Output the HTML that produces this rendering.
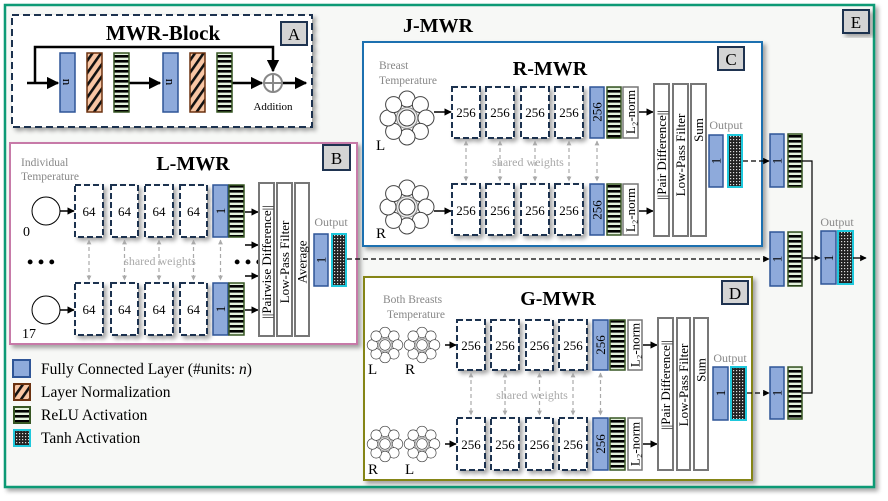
<!DOCTYPE html>
<html><head><meta charset="utf-8"><style>
html,body{margin:0;padding:0;background:#fff}
svg{display:block;font-family:"Liberation Serif",serif}
</style></head><body>
<svg width="888" height="501" viewBox="0 0 888 501" xmlns="http://www.w3.org/2000/svg">
<defs>
<pattern id="hatch" patternUnits="userSpaceOnUse" width="7" height="7" patternTransform="rotate(35)">
<rect width="7" height="7" fill="#f8c6a4"/><rect width="2.6" height="7" fill="#111"/></pattern>
<pattern id="relu" patternUnits="userSpaceOnUse" width="5" height="5">
<rect width="5" height="5" fill="#e3f1dc"/><rect width="5" height="2.6" fill="#000"/></pattern>
<pattern id="tanh" patternUnits="userSpaceOnUse" width="3" height="3">
<rect width="3" height="3" fill="#222"/><rect x="1" y="1" width="1.2" height="1.2" fill="#ddd"/></pattern>
<filter id="sh" x="-10%" y="-10%" width="130%" height="130%"><feDropShadow dx="3" dy="3" stdDeviation="2" flood-color="#000" flood-opacity="0.35"/></filter>
<marker id="ar" viewBox="0 0 10 10" refX="9" refY="5" markerWidth="5" markerHeight="5" orient="auto"><path d="M0,0L10,5L0,10z" fill="#000"/></marker>
<marker id="arg" viewBox="0 0 10 10" refX="9" refY="5" markerWidth="4" markerHeight="4" orient="auto-start-reverse"><path d="M0,0L10,5L0,10z" fill="#aaa"/></marker>
<g id="clu">
<circle cx="0" cy="-19" r="8" fill="#fff" stroke="#444"/><circle cx="13.4" cy="-13.4" r="8" fill="#fff" stroke="#444"/>
<circle cx="19" cy="0" r="8" fill="#fff" stroke="#444"/><circle cx="13.4" cy="13.4" r="8" fill="#fff" stroke="#444"/>
<circle cx="0" cy="19" r="8" fill="#fff" stroke="#444"/><circle cx="-13.4" cy="13.4" r="8" fill="#fff" stroke="#444"/>
<circle cx="-19" cy="0" r="8" fill="#fff" stroke="#444"/><circle cx="-13.4" cy="-13.4" r="8" fill="#fff" stroke="#444"/>
<circle cx="0" cy="0" r="10.5" fill="#eee" stroke="#888"/><circle cx="0" cy="0" r="8" fill="#fff" stroke="#444"/>
</g>
</defs>
<rect width="888" height="501" fill="#fff"/>
<!-- E frame -->
<rect x="5" y="5" width="869" height="482" fill="#f7f8f6" stroke="#0c9a74" stroke-width="2.5" filter="url(#sh)"/>
<rect x="843" y="10" width="26" height="23" fill="#d4d4d4" stroke="#1f3350" stroke-width="2" filter="url(#sh)"/>
<text x="856" y="28" font-size="17" text-anchor="middle">E</text>
<text x="438" y="32" font-size="20" font-weight="bold" text-anchor="middle">J-MWR</text>

<!-- A -->
<rect x="12" y="15" width="300" height="112" fill="#fff" stroke="#1f3350" stroke-width="2" stroke-dasharray="7,4" filter="url(#sh)"/>
<rect x="281" y="22" width="26" height="23" fill="#d4d4d4" stroke="#1f3350" stroke-width="2"/>
<text x="294" y="40" font-size="17" text-anchor="middle">A</text>
<text x="163" y="40" font-size="21" font-weight="bold" text-anchor="middle">MWR-Block</text>
<polyline points="35,83 35,47 273,47 273,71" fill="none" stroke="#000" stroke-width="2.5" marker-end="url(#ar)"/>
<line x1="27" y1="83" x2="58" y2="83" stroke="#000" stroke-width="2.5" marker-end="url(#ar)"/>
<line x1="129" y1="83" x2="160" y2="83" stroke="#000" stroke-width="2.5" marker-end="url(#ar)"/>
<line x1="232" y1="83" x2="262" y2="83" stroke="#000" stroke-width="2.5" marker-end="url(#ar)"/>
<line x1="282" y1="83" x2="306" y2="83" stroke="#000" stroke-width="2.5" marker-end="url(#ar)"/>
<g stroke-width="1.5">
<rect x="60" y="53" width="15" height="59" fill="#8eaadb" stroke="#2f5597"/>
<rect x="87" y="53" width="15" height="59" fill="url(#hatch)" stroke="#6b3210"/>
<rect x="114" y="53" width="15" height="59" fill="url(#relu)" stroke="#375623"/>
<rect x="163" y="53" width="15" height="59" fill="#8eaadb" stroke="#2f5597"/>
<rect x="190" y="53" width="15" height="59" fill="url(#hatch)" stroke="#6b3210"/>
<rect x="217" y="53" width="15" height="59" fill="url(#relu)" stroke="#375623"/>
</g>
<text transform="translate(67.5,82) rotate(90)" font-size="13" text-anchor="middle" dominant-baseline="central">n</text>
<text transform="translate(170.5,82) rotate(90)" font-size="13" text-anchor="middle" dominant-baseline="central">n</text>
<circle cx="273" cy="83" r="9" fill="#fff" stroke="#888" stroke-width="2"/>
<path d="M264,83H282M273,74V92" stroke="#888" stroke-width="2"/>
<text x="273" y="110" font-size="11" text-anchor="middle">Addition</text>

<!-- B L-MWR -->
<rect x="10" y="143" width="347" height="201" fill="#fff" stroke="#c77aa8" stroke-width="2" filter="url(#sh)"/>
<rect x="323" y="145" width="27" height="25" fill="#d4d4d4" stroke="#1f3350" stroke-width="2"/>
<text x="336.5" y="164" font-size="17" text-anchor="middle">B</text>
<text x="193" y="170" font-size="20" font-weight="bold" text-anchor="middle">L-MWR</text>
<text x="21" y="166" font-size="11.5" fill="#888">Individual</text>
<text x="21" y="180" font-size="11.5" fill="#888">Temperature</text>
<circle cx="46" cy="211" r="14" fill="#fff" stroke="#000"/>
<circle cx="46" cy="310" r="14" fill="#fff" stroke="#000"/>
<text x="23" y="236" font-size="14">0</text>
<text x="22" y="338" font-size="14">17</text>
<line x1="60" y1="211" x2="74" y2="211" stroke="#000" stroke-width="1.5" marker-end="url(#ar)"/>
<line x1="60" y1="310" x2="74" y2="310" stroke="#000" stroke-width="1.5" marker-end="url(#ar)"/>
<g fill="#fff" stroke="#1f3350" stroke-width="2" stroke-dasharray="6,3" filter="url(#sh)">
<rect x="75" y="185" width="28" height="52"/><rect x="111" y="185" width="27" height="52"/><rect x="145" y="185" width="28" height="52"/><rect x="180" y="185" width="27" height="52"/>
<rect x="75" y="283" width="28" height="52"/><rect x="111" y="283" width="27" height="52"/><rect x="145" y="283" width="28" height="52"/><rect x="180" y="283" width="27" height="52"/>
</g>
<g font-size="13" text-anchor="middle">
<text x="89" y="216">64</text><text x="124.5" y="216">64</text><text x="159" y="216">64</text><text x="193.5" y="216">64</text>
<text x="89" y="314">64</text><text x="124.5" y="314">64</text><text x="159" y="314">64</text><text x="193.5" y="314">64</text>
</g>
<g stroke="#aaa" stroke-width="1.2" stroke-dasharray="4,3" marker-start="url(#arg)" marker-end="url(#arg)">
<line x1="89" y1="240" x2="89" y2="280"/><line x1="124.5" y1="240" x2="124.5" y2="280"/><line x1="159" y1="240" x2="159" y2="280"/><line x1="193.5" y1="240" x2="193.5" y2="280"/><line x1="220.5" y1="240" x2="220.5" y2="280"/>
</g>
<text x="160" y="265" font-size="12" fill="#aaa" text-anchor="middle">shared weights</text>
<text x="41" y="268" font-size="18" font-weight="bold" text-anchor="middle">• • •</text>
<text x="248" y="268" font-size="18" font-weight="bold" text-anchor="middle">• • •</text>
<g stroke-width="1.5">
<rect x="213" y="185" width="15" height="52" fill="#8eaadb" stroke="#2f5597"/>
<rect x="229" y="185" width="15" height="52" fill="url(#relu)" stroke="#375623"/>
<rect x="213" y="283" width="15" height="52" fill="#8eaadb" stroke="#2f5597"/>
<rect x="229" y="283" width="15" height="52" fill="url(#relu)" stroke="#375623"/>
</g>
<text transform="translate(220.5,211) rotate(-90)" font-size="13" text-anchor="middle" dominant-baseline="central">1</text>
<text transform="translate(220.5,309) rotate(-90)" font-size="13" text-anchor="middle" dominant-baseline="central">1</text>
<g stroke="#000" stroke-width="1.5" marker-end="url(#ar)">
<line x1="245" y1="212" x2="258" y2="212"/><line x1="245" y1="245" x2="258" y2="245"/><line x1="245" y1="276" x2="258" y2="276"/><line x1="245" y1="310" x2="258" y2="310"/>
</g>
<g fill="#fff" stroke="#777" stroke-width="2">
<rect x="259" y="183" width="15" height="153"/><rect x="277" y="183" width="15" height="153"/><rect x="295" y="183" width="14" height="153"/>
</g>
<g font-size="13" text-anchor="middle" dominant-baseline="central">
<text transform="translate(266.5,262) rotate(-90)">||Pairwise Difference||</text>
<text transform="translate(284.5,262) rotate(-90)">Low-Pass Filter</text>
<text transform="translate(302,262) rotate(-90)">Average</text>
</g>
<text x="331" y="226" font-size="12" fill="#888" text-anchor="middle">Output</text>
<rect x="314" y="234" width="14" height="52" fill="#8eaadb" stroke="#2f5597" stroke-width="1.5"/>
<rect x="332" y="234" width="14" height="52" fill="url(#tanh)" stroke="#1ec8dc" stroke-width="2"/>
<text transform="translate(321,260) rotate(-90)" font-size="13" text-anchor="middle" dominant-baseline="central">1</text>

<!-- C R-MWR -->
<rect x="363" y="42" width="399" height="204" fill="#fff" stroke="#1a70b0" stroke-width="2" filter="url(#sh)"/>
<rect x="718" y="47" width="26" height="23" fill="#d4d4d4" stroke="#1f3350" stroke-width="2"/>
<text x="731" y="65" font-size="17" text-anchor="middle">C</text>
<text x="550" y="75" font-size="20" font-weight="bold" text-anchor="middle">R-MWR</text>
<text x="379" y="69" font-size="11.5" fill="#888">Breast</text>
<text x="379" y="84" font-size="11.5" fill="#888">Temperature</text>
<use href="#clu" x="407" y="118"/>
<use href="#clu" x="407" y="207"/>
<text x="376" y="150" font-size="15">L</text>
<text x="376" y="238" font-size="15">R</text>
<line x1="434" y1="112" x2="451" y2="112" stroke="#000" stroke-width="1.5" marker-end="url(#ar)"/>
<line x1="434" y1="211" x2="451" y2="211" stroke="#000" stroke-width="1.5" marker-end="url(#ar)"/>
<g fill="#fff" stroke="#1f3350" stroke-width="2" stroke-dasharray="6,3" filter="url(#sh)">
<rect x="452" y="87" width="28" height="51"/><rect x="486" y="87" width="28" height="51"/><rect x="521" y="87" width="28" height="51"/><rect x="555" y="87" width="28" height="51"/>
<rect x="452" y="184" width="28" height="51"/><rect x="486" y="184" width="28" height="51"/><rect x="521" y="184" width="28" height="51"/><rect x="555" y="184" width="28" height="51"/>
</g>
<g font-size="13" text-anchor="middle">
<text x="466" y="117">256</text><text x="500" y="117">256</text><text x="535" y="117">256</text><text x="569" y="117">256</text>
<text x="466" y="215">256</text><text x="500" y="215">256</text><text x="535" y="215">256</text><text x="569" y="215">256</text>
</g>
<g stroke="#aaa" stroke-width="1.2" stroke-dasharray="4,3" marker-start="url(#arg)" marker-end="url(#arg)">
<line x1="466" y1="141" x2="466" y2="181"/><line x1="500" y1="141" x2="500" y2="181"/><line x1="535" y1="141" x2="535" y2="181"/><line x1="569" y1="141" x2="569" y2="181"/><line x1="597" y1="141" x2="597" y2="181"/>
</g>
<text x="528" y="166" font-size="12" fill="#aaa" text-anchor="middle">shared weights</text>
<g stroke-width="1.5">
<rect x="590" y="87" width="14" height="51" fill="#8eaadb" stroke="#2f5597"/>
<rect x="607" y="87" width="14" height="51" fill="url(#relu)" stroke="#375623"/>
<rect x="623" y="87" width="15" height="51" fill="#fff" stroke="#777"/>
<rect x="590" y="184" width="14" height="51" fill="#8eaadb" stroke="#2f5597"/>
<rect x="607" y="184" width="14" height="51" fill="url(#relu)" stroke="#375623"/>
<rect x="623" y="184" width="15" height="51" fill="#fff" stroke="#777"/>
</g>
<g font-size="13" text-anchor="middle" dominant-baseline="central">
<text transform="translate(597,112) rotate(-90)">256</text><text transform="translate(597,210) rotate(-90)">256</text>
<text transform="translate(630.5,112) rotate(-90)">L₂-norm</text><text transform="translate(630.5,210) rotate(-90)">L₂-norm</text>
</g>
<line x1="639" y1="112" x2="653" y2="112" stroke="#000" stroke-width="1.5" marker-end="url(#ar)"/>
<line x1="639" y1="211" x2="653" y2="211" stroke="#000" stroke-width="1.5" marker-end="url(#ar)"/>
<g fill="#fff" stroke="#777" stroke-width="2">
<rect x="654" y="84" width="15" height="152"/><rect x="673" y="84" width="15" height="152"/><rect x="691" y="84" width="15" height="152"/>
</g>
<g font-size="13" text-anchor="middle" dominant-baseline="central">
<text transform="translate(661.5,155) rotate(-90)">||Pair Difference||</text>
<text transform="translate(680.5,155) rotate(-90)">Low-Pass Filter</text>
<text transform="translate(698.5,130) rotate(-90)">Sum</text>
</g>
<text x="726" y="129" font-size="12" fill="#888" text-anchor="middle">Output</text>
<rect x="709" y="135" width="14" height="52" fill="#8eaadb" stroke="#2f5597" stroke-width="1.5"/>
<rect x="728" y="135" width="14" height="52" fill="url(#tanh)" stroke="#1ec8dc" stroke-width="2"/>
<text transform="translate(716,161) rotate(-90)" font-size="13" text-anchor="middle" dominant-baseline="central">1</text>

<!-- D G-MWR -->
<rect x="364" y="277" width="388" height="203" fill="#fff" stroke="#858514" stroke-width="2" filter="url(#sh)"/>
<rect x="722" y="281" width="26" height="23" fill="#d4d4d4" stroke="#1f3350" stroke-width="2"/>
<text x="735" y="299" font-size="17" text-anchor="middle">D</text>
<text x="558" y="305" font-size="20" font-weight="bold" text-anchor="middle">G-MWR</text>
<text x="383" y="303" font-size="11.5" fill="#888">Both Breasts</text>
<text x="387" y="318" font-size="11.5" fill="#888">Temperature</text>
<use href="#clu" transform="translate(385,345) scale(0.66)"/>
<use href="#clu" transform="translate(422,345) scale(0.66)"/>
<use href="#clu" transform="translate(385,444) scale(0.66)"/>
<use href="#clu" transform="translate(422,444) scale(0.66)"/>
<g font-size="15"><text x="368" y="374">L</text><text x="405" y="374">R</text><text x="368" y="474">R</text><text x="405" y="474">L</text></g>
<line x1="445" y1="345" x2="456" y2="345" stroke="#000" stroke-width="1.5" marker-end="url(#ar)"/>
<line x1="445" y1="444" x2="456" y2="444" stroke="#000" stroke-width="1.5" marker-end="url(#ar)"/>
<g fill="#fff" stroke="#1f3350" stroke-width="2" stroke-dasharray="6,3" filter="url(#sh)">
<rect x="457" y="320" width="28" height="50"/><rect x="491" y="320" width="28" height="50"/><rect x="526" y="320" width="27" height="50"/><rect x="559" y="320" width="28" height="50"/>
<rect x="457" y="418" width="28" height="52"/><rect x="491" y="418" width="28" height="52"/><rect x="526" y="418" width="27" height="52"/><rect x="559" y="418" width="28" height="52"/>
</g>
<g font-size="13" text-anchor="middle">
<text x="471" y="350">256</text><text x="505" y="350">256</text><text x="539.5" y="350">256</text><text x="573" y="350">256</text>
<text x="471" y="449">256</text><text x="505" y="449">256</text><text x="539.5" y="449">256</text><text x="573" y="449">256</text>
</g>
<g stroke="#aaa" stroke-width="1.2" stroke-dasharray="4,3" marker-start="url(#arg)" marker-end="url(#arg)">
<line x1="471" y1="373" x2="471" y2="415"/><line x1="505" y1="373" x2="505" y2="415"/><line x1="539.5" y1="373" x2="539.5" y2="415"/><line x1="573" y1="373" x2="573" y2="415"/><line x1="600.5" y1="373" x2="600.5" y2="415"/>
</g>
<text x="532" y="399" font-size="12" fill="#aaa" text-anchor="middle">shared weights</text>
<g stroke-width="1.5">
<rect x="593" y="320" width="15" height="50" fill="#8eaadb" stroke="#2f5597"/>
<rect x="610" y="320" width="15" height="50" fill="url(#relu)" stroke="#375623"/>
<rect x="628" y="320" width="14" height="50" fill="#fff" stroke="#777"/>
<rect x="593" y="418" width="15" height="52" fill="#8eaadb" stroke="#2f5597"/>
<rect x="610" y="418" width="15" height="52" fill="url(#relu)" stroke="#375623"/>
<rect x="628" y="418" width="14" height="52" fill="#fff" stroke="#777"/>
</g>
<g font-size="13" text-anchor="middle" dominant-baseline="central">
<text transform="translate(600.5,345) rotate(-90)">256</text><text transform="translate(600.5,444) rotate(-90)">256</text>
<text transform="translate(635,345) rotate(-90)">L₂-norm</text><text transform="translate(635,444) rotate(-90)">L₂-norm</text>
</g>
<line x1="643" y1="345" x2="657" y2="345" stroke="#000" stroke-width="1.5" marker-end="url(#ar)"/>
<line x1="643" y1="444" x2="657" y2="444" stroke="#000" stroke-width="1.5" marker-end="url(#ar)"/>
<g fill="#fff" stroke="#777" stroke-width="2">
<rect x="658" y="318" width="15" height="152"/><rect x="677" y="318" width="13" height="152"/><rect x="694" y="318" width="14" height="152"/>
</g>
<g font-size="13" text-anchor="middle" dominant-baseline="central">
<text transform="translate(665.5,385) rotate(-90)">||Pair Difference||</text>
<text transform="translate(683.5,385) rotate(-90)">Low-Pass Filter</text>
<text transform="translate(701,370) rotate(-90)">Sum</text>
</g>
<text x="730" y="362" font-size="12" fill="#888" text-anchor="middle">Output</text>
<rect x="713" y="367" width="15" height="53" fill="#8eaadb" stroke="#2f5597" stroke-width="1.5"/>
<rect x="731" y="367" width="15" height="53" fill="url(#tanh)" stroke="#1ec8dc" stroke-width="2"/>
<text transform="translate(720.5,393) rotate(-90)" font-size="13" text-anchor="middle" dominant-baseline="central">1</text>

<!-- J-MWR right part -->
<g stroke="#000" stroke-width="1.3" stroke-dasharray="5,3" marker-end="url(#ar)">
<line x1="743" y1="161" x2="769" y2="161"/>
<line x1="347" y1="259" x2="769" y2="259"/>
<line x1="747" y1="393" x2="769" y2="393"/>
</g>
<g stroke-width="1.5">
<rect x="770" y="134" width="14" height="53" fill="#8eaadb" stroke="#2f5597"/>
<rect x="788" y="134" width="14" height="53" fill="url(#relu)" stroke="#375623"/>
<rect x="770" y="232" width="14" height="54" fill="#8eaadb" stroke="#2f5597"/>
<rect x="788" y="232" width="14" height="54" fill="url(#relu)" stroke="#375623"/>
<rect x="770" y="367" width="14" height="52" fill="#8eaadb" stroke="#2f5597"/>
<rect x="788" y="367" width="14" height="52" fill="url(#relu)" stroke="#375623"/>
</g>
<g font-size="13" text-anchor="middle" dominant-baseline="central">
<text transform="translate(777,161) rotate(-90)">1</text><text transform="translate(777,259) rotate(-90)">1</text><text transform="translate(777,393) rotate(-90)">1</text>
</g>
<polyline points="802,161 812,161 812,393 802,393" fill="none" stroke="#000" stroke-width="1.2"/>
<line x1="802" y1="258" x2="820" y2="258" stroke="#000" stroke-width="1.2" marker-end="url(#ar)"/>
<text x="837" y="226" font-size="12" fill="#888" text-anchor="middle">Output</text>
<rect x="821" y="231" width="15" height="53" fill="#8eaadb" stroke="#2f5597" stroke-width="1.5"/>
<rect x="838" y="231" width="15" height="53" fill="url(#tanh)" stroke="#1ec8dc" stroke-width="2"/>
<text transform="translate(828.5,258) rotate(-90)" font-size="13" text-anchor="middle" dominant-baseline="central">1</text>
<line x1="853" y1="258" x2="866" y2="258" stroke="#000" stroke-width="1.3" marker-end="url(#ar)"/>

<!-- Legend -->
<rect x="13" y="360" width="17" height="17" fill="#8eaadb" stroke="#2f5597" stroke-width="2"/>
<rect x="14" y="384" width="16" height="16" fill="url(#hatch)" stroke="#6b3210" stroke-width="2"/>
<rect x="14" y="407" width="16" height="16" fill="url(#relu)" stroke="#375623" stroke-width="2"/>
<rect x="14" y="430" width="16" height="16" fill="url(#tanh)" stroke="#1ec8dc" stroke-width="2"/>
<g font-size="15.5">
<text x="41" y="374">Fully Connected Layer (#units: <tspan font-style="italic">n</tspan>)</text>
<text x="41" y="397">Layer Normalization</text>
<text x="41" y="420">ReLU Activation</text>
<text x="41" y="443">Tanh Activation</text>
</g>
</svg>
</body></html>
